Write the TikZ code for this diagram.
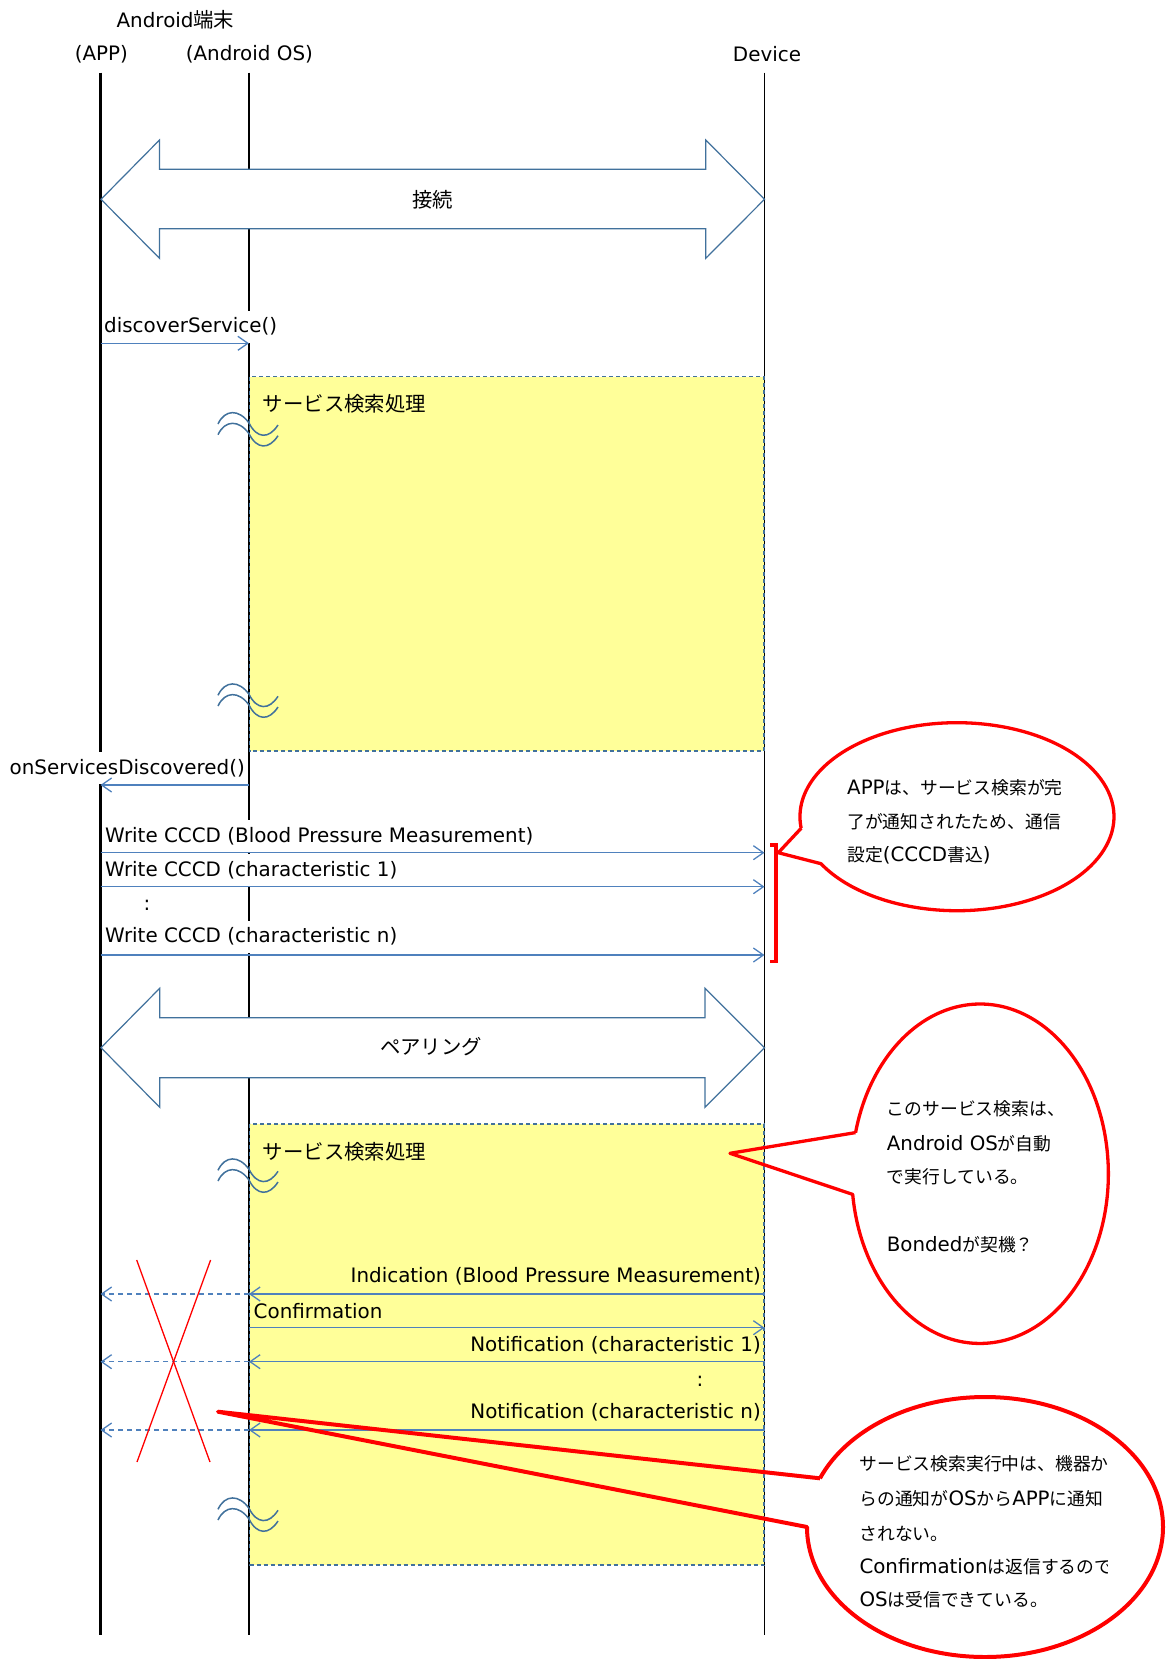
\documentclass[tikz,border=0pt]{standalone}
\usepackage{fontspec}
\setmainfont{DejaVu Sans}
\newfontfamily\jpf{Noto Sans CJK JP}
\usetikzlibrary{arrows.meta}
\definecolor{msgblue}{HTML}{4F81BD}
\definecolor{lineblue}{HTML}{41719C}
\definecolor{boxyellow}{HTML}{FFFF99}
\newcommand\J[1]{{\fontsize{20.4}{24}\jpf #1}}
\newcommand\Jc[1]{{\fontsize{17.8}{24}\jpf #1}}
\begin{document}
\begin{tikzpicture}[x=1pt,y=-1pt,
  life/.style={line width=2.2pt,black},
  msg/.style={draw=msgblue,line width=1.3pt,-{Straight Barb[length=10pt,width=14pt]}},
  dmsg/.style={msg,dash pattern=on 5pt off 4pt},
  dblarrow/.style={draw=lineblue,fill=white,line width=1.2pt,line join=miter},
  procbox/.style={fill=boxyellow},
  boxedge/.style={draw=lineblue,line width=1.1pt,dash pattern=on 4pt off 3pt},
  brkwave/.style={draw=lineblue,line width=1.5pt},
  txt/.style={font=\fontsize{19.9}{24}\selectfont,inner sep=0pt},
  wlbl/.style={txt,fill=white,inner xsep=2pt,minimum height=32pt},
  ctxt/.style={font=\fontsize{19.8}{24}\selectfont,inner sep=0pt,anchor=base west},
  callout/.style={draw=red,line width=3.3pt,line join=round},
  xline/.style={draw=red,line width=1.3pt},
  brk/.pic={
    \draw[brkwave] (-31,12) .. controls (-24,-3) and (-10,-3) .. (0,11) .. controls (8,27) and (20,27) .. (29,13);
    \draw[brkwave] (-31,22.7) .. controls (-24,7.7) and (-10,7.7) .. (0,21.7) .. controls (8,37.7) and (20,37.7) .. (29,23.7);
  }]
\useasboundingbox (0,0) rectangle (1165,1659);

% headers
\node[txt] (hdr) at (175.5,20) {Android\J{端末}};
\node[txt] (happ) at (101.4,54) {(APP)};
\node[txt] (hos) at (249.4,54) {(Android OS)};
\node[txt] (hdev) at (767,54) {Device};

% process boxes (fill)
\fill[procbox] (249,376.7) rectangle (764.5,751);
\fill[procbox] (249,1124) rectangle (764.5,1565);

% lifelines
\coordinate (appT) at (100.5,72.7); \coordinate (appB) at (100.5,1635);
\coordinate (osT) at (249,72.7);    \coordinate (osB) at (249,1635);
\coordinate (devT) at (764.5,72.7); \coordinate (devB) at (764.5,1635);
\draw[life] (appT) -- (appB);
\draw[life] (osT) -- (osB);
\draw[life,line width=1.9pt] (devT) -- (devB);

% process box borders
\draw[boxedge] (249.5,376.7) rectangle (764,751);
\draw[boxedge] (249.5,1124) rectangle (764,1565);
\node[txt,anchor=west] (p1) at (262.7,403.3) {\J{サービス検索処理}};
\node[txt,anchor=west] (p2) at (262.7,1151.7) {\J{サービス検索処理}};

% break marks
\pic at (249,412) {brk};
\pic at (249,683.3) {brk};
\pic at (249,1158.3) {brk};
\pic at (249,1497.3) {brk};

% double arrows
\draw[dblarrow] (101,199.3) -- (159.5,140) -- (159.5,169.3) -- (705.8,169.3) -- (705.8,140) -- (764.5,199.3) -- (705.8,258.3) -- (705.8,228.7) -- (159.5,228.7) -- (159.5,258.3) -- cycle;
\node[txt] (conn) at (432.8,199.3) {\J{接続}};
\draw[dblarrow] (101,1047.7) -- (159.7,988.3) -- (159.7,1017.7) -- (705,1017.7) -- (705,988.3) -- (764.5,1047.7) -- (705,1107.3) -- (705,1077.7) -- (159.7,1077.7) -- (159.7,1107.3) -- cycle;
\node[txt] (pair) at (431,1046.7) {\J{ペアリング}};

% message labels
\node[wlbl,anchor=west] (l1) at (102,326.5) {discoverService()};
\node[wlbl,anchor=east] (l2) at (247,768.3) {onServicesDiscovered()};
\node[wlbl,anchor=west] (l3) at (103,836) {Write CCCD (Blood Pressure Measurement)};
\node[wlbl,anchor=west] (l4) at (103,870) {Write CCCD (characteristic 1)};
\node[txt] (l5) at (147,905) {:};
\node[wlbl,anchor=west] (l6) at (103,936.7) {Write CCCD (characteristic n)};
\node[txt,anchor=east] (l7) at (761,1276.7) {Indication (Blood Pressure Measurement)};
\node[txt,anchor=west] (l8) at (253.5,1311) {Confirmation};
\node[txt,anchor=east] (l9) at (761,1345) {Notification (characteristic 1)};
\node[txt] (l10) at (700,1381.7) {:};
\node[txt,anchor=east] (l11) at (761,1412.7) {Notification (characteristic n)};

% message arrows
\coordinate (a1) at (100.5,343.3); \coordinate (o1) at (249,343.3);
\draw[msg] (a1) -- (o1);
\coordinate (o2) at (249,785); \coordinate (a2) at (100.5,785);
\draw[msg] (o2) -- (a2);
\coordinate (a3) at (100.5,852.7); \coordinate (d3) at (764.5,852.7);
\draw[msg] (a3) -- (d3);
\coordinate (a4) at (100.5,886.7); \coordinate (d4) at (764.5,886.7);
\draw[msg] (a4) -- (d4);
\coordinate (a6) at (100.5,955); \coordinate (d6) at (764.5,955);
\draw[msg] (a6) -- (d6);
\coordinate (d7) at (764.5,1294); \coordinate (o7) at (249,1294); \coordinate (a7) at (100.5,1294);
\draw[msg] (d7) -- (o7);
\draw[dmsg] (o7) -- (a7);
\coordinate (o8) at (249,1327.7); \coordinate (d8) at (764.5,1327.7);
\draw[msg] (o8) -- (d8);
\coordinate (d9) at (764.5,1361.7); \coordinate (o9) at (249,1361.7); \coordinate (a9) at (100.5,1361.7);
\draw[msg] (d9) -- (o9);
\draw[dmsg] (o9) -- (a9);
\coordinate (d11) at (764.5,1430); \coordinate (o11) at (249,1430); \coordinate (a11) at (100.5,1430);
\draw[msg] (d11) -- (o11);
\draw[dmsg] (o11) -- (a11);

% red cross
\draw[xline] (136.7,1260) -- (210,1462);
\draw[xline] (210.6,1260) -- (137,1462);

% bracket
\coordinate (b1) at (770,845); \coordinate (b2) at (776,845);
\coordinate (b3) at (776,961.7); \coordinate (b4) at (770,961.7);
\draw[callout,line join=miter] (b1) -- (b2) -- (b3) -- (b4);

% callout 1
\fill[white] (957,816.7) ellipse [x radius=157,y radius=94];
\draw[callout] (801.2,828.2) -- (778.3,852.7) -- (821,863.7) arc[start angle=150,end angle=-187,x radius=157,y radius=94];
\node[ctxt] (c1a) at (847,794.1) {APP\Jc{は、サービス検索が完}};
\node[ctxt] (c1b) at (847,828.5) {\Jc{了が通知されたため、通信}};
\node[ctxt] (c1c) at (847,861.8) {\Jc{設定}(CCCD\Jc{書込})};

% callout 2
\fill[white] (980,1173.7) ellipse [x radius=128.3,y radius=169.7];
\draw[callout] (855.5,1132.6) -- (730,1153.3) -- (852.7,1194.4) arc[start angle=173,end angle=-166,x radius=128.3,y radius=169.7];
\node[ctxt] (c2a) at (886.7,1115.1) {\Jc{このサービス検索は、}};
\node[ctxt] (c2b) at (886.7,1150.1) {Android OS\Jc{が自動}};
\node[ctxt] (c2c) at (886.7,1183.5) {\Jc{で実行している。}};
\node[ctxt] (c2d) at (886.7,1251.8) {Bonded\Jc{が契機？}};

% callout 3
\fill[white] (985,1527) ellipse [x radius=178,y radius=130];
\draw[callout,line width=4pt] (820,1478.3) -- (218,1411.7) -- (807,1527) arc[start angle=180,end angle=-158,x radius=178,y radius=130];
\begin{scope}
\clip (850,1440) rectangle (1107,1625);
\node[ctxt] (c3a) at (859.3,1470.1) {\Jc{サービス検索実行中は、機器か}};
\node[ctxt] (c3b) at (859.3,1505.1) {\Jc{らの通知が}OS\Jc{から}APP\Jc{に通知}};
\node[ctxt] (c3c) at (859.3,1540.1) {\Jc{されない。}};
\node[ctxt] (c3d) at (859.3,1573.5) {Confirmation\Jc{は返信するので、}};
\node[ctxt] (c3e) at (859.3,1606.8) {OS\Jc{は受信できている。}};
\end{scope}
\end{tikzpicture}
\end{document}
